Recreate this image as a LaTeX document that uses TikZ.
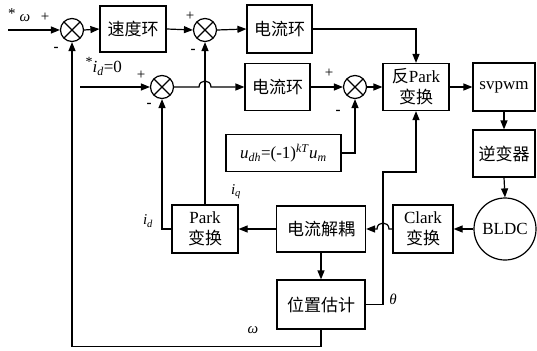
\documentclass[tikz,border=0pt]{standalone}
\usepackage{fontspec}
\setmainfont{Liberation Serif}
\newfontfamily\cjk{Noto Sans CJK SC}
\usetikzlibrary{arrows.meta}
\begin{document}
\begin{tikzpicture}[x=1pt,y=-1pt,
  line width=1.2pt,
  blk/.style={draw,rectangle,inner sep=0pt,align=center,font=\fontsize{17}{21}\selectfont},
  sumc/.style={draw,circle,minimum size=23pt,inner sep=0pt,
    path picture={\draw[line width=1.2pt] (path picture bounding box.north west)--(path picture bounding box.south east)
      (path picture bounding box.north east)--(path picture bounding box.south west);}},
  arr/.style={-{Triangle[length=9pt,width=7pt]}},
  lbl/.style={inner sep=0pt,font=\fontsize{15}{15}\selectfont}]
\useasboundingbox (0,0) rectangle (537,350);
% summing junctions
\node[sumc] (s1) at (72,30) {};
\node[sumc] (s2) at (205,30) {};
\node[sumc] (s3) at (162,87) {};
\node[sumc] (s4) at (355,87) {};
% blocks
\node[blk,minimum width=66pt,minimum height=46pt] (spd) at (133,29) {\cjk 速度环};
\node[blk,minimum width=65pt,minimum height=48pt] (cur1) at (279.5,29) {\cjk 电流环};
\node[blk,minimum width=65pt,minimum height=47pt] (cur2) at (277.5,87) {\cjk 电流环};
\node[blk,minimum width=66pt,minimum height=47pt] (ipark) at (416,87) {{\cjk 反}Park\\{\cjk 变换}};
\node[blk,minimum width=62pt,minimum height=48pt] (svpwm) at (504,87) {svpwm};
\node[blk,minimum width=115pt,minimum height=37pt] (udh) at (283.5,153) {\textit{u}\textsubscript{\textit{dh}}=(-1)\textsuperscript{\textit{kT}}\textit{u}\textsubscript{\textit{m}}};
\node[blk,minimum width=62pt,minimum height=47pt] (inv) at (504,153.5) {\cjk 逆变器};
\node[draw,circle,minimum size=62pt,inner sep=0pt,font=\fontsize{17}{21}\selectfont] (bldc) at (505,229) {BLDC};
\node[blk,minimum width=60pt,minimum height=48pt] (clark) at (423,229) {Clark\\{\cjk 变换}};
\node[blk,minimum width=89pt,minimum height=46pt] (dec) at (321,229) {\cjk 电流解耦};
\node[blk,minimum width=66pt,minimum height=48pt] (park) at (205,229) {Park\\{\cjk 变换}};
\node[blk,minimum width=88pt,minimum height=49pt] (pos) at (321,304.5) {\cjk 位置估计};
% free ends
\coordinate (in1) at (8,30);
\coordinate (in2) at (80,87);
\coordinate (t1) at (383,172);
% connectors row 1
\draw[arr] (in1) -- (s1.west);
\draw[arr] (s1.east) -- (spd.west);
\draw[arr] (spd.east) -- (s2.west);
\draw[arr] (s2.east) -- (cur1.west);
\draw[arr] (cur1.east) -| (ipark.north);
% row 2
\draw[arr] (in2) -- (s3.west);
\draw[arr] (s3.east) -- (199,87) .. controls (199,79) and (211,79) .. (211,87) -- (cur2.west);
\draw[arr] (cur2.east) -- (s4.west);
\draw[arr] (s4.east) -- (ipark.west);
\draw[arr] (ipark.east) -- (svpwm.west);
\draw[arr] (udh.east) -| (s4.south);
% right column
\draw[arr] (svpwm.south) -- (inv.north);
\draw[arr] (inv.south) -- (bldc.north);
\draw[arr] (bldc.west) -- (clark.east);
\draw[arr] (clark.west) -- (389,229) .. controls (389,221) and (377,221) .. (377,229) -- (dec.east);
\draw[arr] (dec.west) -- (park.east);
\draw[arr] (dec.south) -- (pos.north);
\draw[arr] (park.north) -- (s2.south);
\draw[arr] (park.west) -| (s3.south);
\draw[arr] (pos.east) -| (t1) -| (ipark.south);
\draw[arr] (pos.south) -- ++(0,17) -| (s1.south);
% labels
\node[lbl] (l1) at (12,14) {*};
\node[lbl] (l2) at (25,18) {\textit{ω}};
\node[lbl] (l3) at (45,17) {+};
\node[lbl] (l4) at (56,49) {\textbf{-}};
\node[lbl] (l5) at (190,16) {+};
\node[lbl] (l6) at (193,51) {\textbf{-}};
\node[lbl,anchor=base west,font=\fontsize{17}{17}\selectfont] (l7) at (85,73) {\raisebox{6pt}{\fontsize{14}{14}\selectfont *}\textit{i}\textsubscript{\textit{d}}=0};
\node[lbl] (l8) at (141,75) {+};
\node[lbl] (l9) at (149,105) {\textbf{-}};
\node[lbl] (l10) at (329,73) {+};
\node[lbl] (l11) at (338,112) {\textbf{-}};
\node[lbl] (l12) at (236,192) {\textit{i}\textsubscript{\textit{q}}};
\node[lbl] (l13) at (148,221) {\textit{i}\textsubscript{\textit{d}}};
\node[lbl] (l14) at (393,299) {\textit{θ}};
\node[lbl] (l15) at (253,330) {\textit{ω}};
\end{tikzpicture}
\end{document}
